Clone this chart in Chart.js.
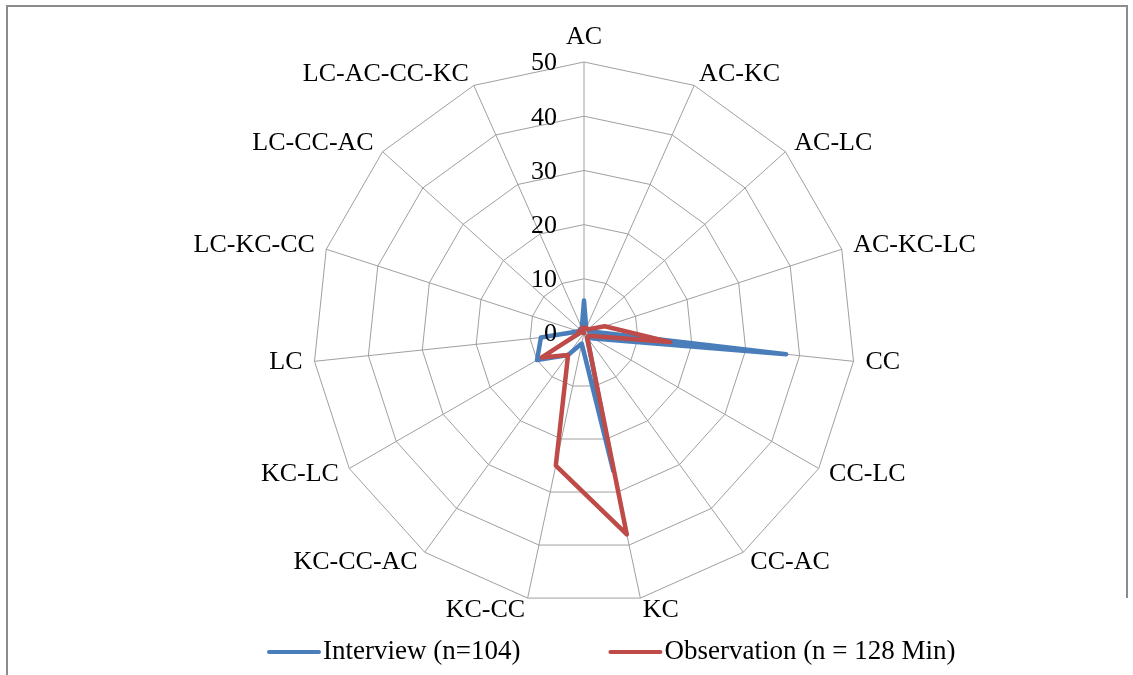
<!DOCTYPE html>
<html>
<head>
<meta charset="utf-8">
<title>Interview vs Observation</title>
<script src="https://cdn.jsdelivr.net/npm/chart.js@4/dist/chart.umd.min.js"></script>
<style>
  html, body { margin: 0; padding: 0; background: #ffffff; }
  #wrap { width: 1133px; height: 675px; }
</style>
</head>
<body>
<div id="wrap"><canvas id="chart" width="1133" height="675"></canvas></div>
<script>
// Category axes, clockwise from the top
const categories = ['AC', 'AC-KC', 'AC-LC', 'AC-KC-LC', 'CC', 'CC-LC', 'CC-AC', 'KC',
  'KC-CC', 'KC-CC-AC', 'KC-LC', 'LC', 'LC-KC-CC', 'LC-CC-AC', 'LC-AC-CC-KC'];

// Series values
const interview = [6, 1, 1, 1, 37.5, 2, 1, 26, 2, 5, 10, 8, 1, 1, 1];
const observation = [1, 1, 1, 4, 16, 1, 1, 38, 25, 5, 9, 1, 1, 0, 1];

// Series names
const seriesNames = ['Interview (n=104)', 'Observation (n = 128 Min)'];

// Radial tick range
const tickMin = 0;
const tickMax = 50;
const tickStep = 10;

const FONT = '"Liberation Serif", "Times New Roman", serif';
const BLUE = '#4a7ebb';
const RED = '#be4b48';
const GRID = '#a0a0a0';

// Frame, white background and the outer border
const framePlugin = {
  id: 'frame',
  beforeDraw(chart) {
    const ctx = chart.ctx;
    ctx.save();
    ctx.fillStyle = '#ffffff';
    ctx.fillRect(0, 0, chart.width, chart.height);
    ctx.strokeStyle = '#8c8c8c';
    ctx.lineWidth = 2;
    ctx.beginPath();
    ctx.moveTo(7, chart.height);
    ctx.lineTo(7, 6);
    ctx.lineTo(1127, 6);
    ctx.lineTo(1127, 598);
    ctx.stroke();
    ctx.restore();
  }
};

// Category labels around the web and value labels along the first spoke
const labelPlugin = {
  id: 'radarLabels',
  afterDatasetsDraw(chart) {
    const scale = chart.scales.r;
    const ctx = chart.ctx;
    ctx.save();
    ctx.fillStyle = '#000000';
    ctx.font = '26px ' + FONT;

    // value labels, to the left of the vertical spoke
    ctx.textAlign = 'right';
    ctx.textBaseline = 'middle';
    scale.ticks.forEach(t => {
      const y = scale.yCenter - scale.getDistanceFromCenterForValue(t.value);
      ctx.fillText(String(t.value), scale.xCenter - 27, y + 1.5);
    });

    // category labels
    scale._pointLabels.forEach((label, i) => {
      const p = scale.getPointPosition(i, scale.drawingArea + 12);
      const a = scale.getIndexAngle(i);
      const s = Math.sin(a);
      const c = Math.cos(a);
      if (Math.abs(s) < 1e-6) {
        ctx.textAlign = 'center';
        ctx.textBaseline = c > 0 ? 'bottom' : 'top';
      } else {
        ctx.textAlign = s > 0 ? 'left' : 'right';
        ctx.textBaseline = 'middle';
      }
      ctx.fillText(label, p.x, p.y);
    });
    ctx.restore();
  }
};

// Legend along the bottom: a short coloured line followed by the series name
const legendPlugin = {
  id: 'lineLegend',
  afterDraw(chart) {
    const ctx = chart.ctx;
    const sets = chart.data.datasets;
    const lineLen = 54;
    const textGap = 2;
    const itemGap = 88;
    const y = 652;
    ctx.save();
    ctx.font = '27px ' + FONT;
    let x = 267;
    sets.forEach(d => {
      ctx.strokeStyle = d.borderColor;
      ctx.lineWidth = 4;
      ctx.lineCap = 'round';
      ctx.beginPath();
      ctx.moveTo(x + 2, y);
      ctx.lineTo(x + lineLen - 2, y);
      ctx.stroke();
      ctx.fillStyle = '#000000';
      ctx.textAlign = 'left';
      ctx.textBaseline = 'middle';
      ctx.fillText(d.label, x + lineLen + textGap, y);
      x += lineLen + textGap + ctx.measureText(d.label).width + itemGap;
    });
    ctx.restore();
  }
};

new Chart(document.getElementById('chart'), {
  type: 'radar',
  data: {
    labels: categories,
    datasets: [
      {
        label: seriesNames[0],
        data: interview,
        borderColor: BLUE,
        backgroundColor: BLUE,
        borderWidth: 4.5,
        borderJoinStyle: 'round',
        borderCapStyle: 'round',
        pointRadius: 0,
        pointHoverRadius: 0,
        fill: false,
        order: 1
      },
      {
        label: seriesNames[1],
        data: observation,
        borderColor: RED,
        backgroundColor: RED,
        borderWidth: 4.5,
        borderJoinStyle: 'round',
        borderCapStyle: 'round',
        pointRadius: 0,
        pointHoverRadius: 0,
        fill: false,
        order: 0
      }
    ]
  },
  options: {
    responsive: false,
    animation: false,
    events: [],
    layout: { padding: { left: 313, top: 62, right: 278, bottom: 71 } },
    elements: { line: { tension: 0 } },
    plugins: {
      legend: { display: false },
      tooltip: { enabled: false }
    },
    scales: {
      r: {
        min: tickMin,
        max: tickMax,
        ticks: { stepSize: tickStep, display: false },
        grid: { color: GRID, lineWidth: 1, circular: false },
        angleLines: { display: true, color: GRID, lineWidth: 1 },
        pointLabels: { display: false }
      }
    }
  },
  plugins: [framePlugin, labelPlugin, legendPlugin]
});
</script>
</body>
</html>
